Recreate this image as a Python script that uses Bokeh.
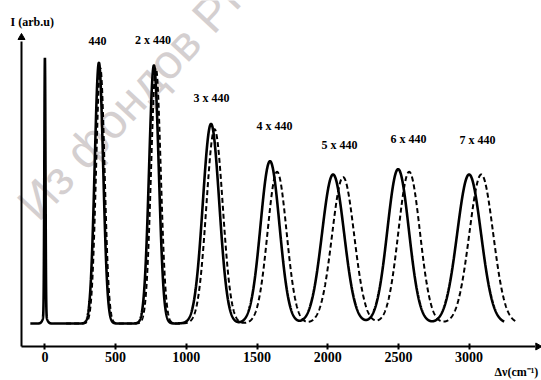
import numpy as np
from bokeh.plotting import figure
from bokeh.models import Label, FixedTicker
from bokeh.core.properties import value
from bokeh.embed import file_html
from bokeh.resources import INLINE

# ---- data ----
# solid spectrum: peak positions (cm^-1), heights (arb.u.), widths (sigma, cm^-1)
solid_pos = [0, 0, 382, 771, 1175, 1592, 2038, 2498, 3000]
solid_height = [97, 3, 98, 97, 75, 61, 56, 58, 56]
solid_sigma = [4, 14, 30, 34, 58, 67, 78, 76, 84]
solid_span = [-103, 3248]

# dashed spectrum
dashed_pos = [392, 785, 1200, 1642, 2109, 2576, 3086]
dashed_height = [96, 96, 73, 57, 55, 57, 56]
dashed_sigma = [30, 34, 58, 67, 78, 76, 84]
dashed_span = [150, 3333]

peak_labels = ["440", "2 x 440", "3 x 440", "4 x 440", "5 x 440", "6 x 440", "7 x 440"]
label_x = [372, 764, 1178, 1624, 2083, 2571, 3059]
label_y = [106, 106.4, 84.6, 74.4, 66.9, 69.5, 68.8]

x_ticks = [0, 500, 1000, 1500, 2000, 2500, 3000]

# ---- layout constants ----
x_min, x_max = -314.0, 3512.0
y_min, y_max = -21.43, 121.4
axis_x0, axis_y0 = -165.5, -8.65      # origin of the drawn axes
axis_x_end, axis_y_end = 3466.0, 106.0


def spectrum(pos, height, sigma, span, n=5000):
    x = np.linspace(span[0], span[1], n)
    y = np.zeros_like(x)
    for c, h, s in zip(pos, height, sigma):
        y += h * np.exp(-0.5 * ((x - c) / s) ** 2)
    return x, y


p = figure(width=541, height=380, output_backend="svg", toolbar_location=None,
           x_range=(x_min, x_max), y_range=(y_min, y_max),
           min_border_left=0, min_border_right=0, min_border_top=0, min_border_bottom=0)
p.grid.visible = False
p.outline_line_color = None
p.yaxis.visible = False
p.background_fill_color = "white"

# watermark
p.add_layout(Label(x=-130, y=41.95, text="Из фондов РГБ", angle=47, angle_units="deg",
                   text_font="Liberation Sans", text_font_size="48px", text_color="#d4cfd0",
                   text_baseline="alphabetic", level="underlay"))

xs, ys = spectrum(solid_pos, solid_height, solid_sigma, solid_span)
xd, yd = spectrum(dashed_pos, dashed_height, dashed_sigma, dashed_span)
p.line(xd, yd, line_color="black", line_width=2, line_dash="5 3")
p.line(xs, ys, line_color="black", line_width=2.6)

p.text(x=label_x, y=label_y, text=peak_labels, text_font=value("Liberation Serif"),
       text_font_style="bold", text_font_size="12px", text_align="center",
       text_baseline="middle", text_color="black")

# axis lines with arrow heads
p.segment(x0=[axis_x0, axis_x0], y0=[axis_y0, axis_y0],
          x1=[axis_x_end, axis_x0], y1=[axis_y0, axis_y_end],
          line_color="black", line_width=2)
p.scatter(x=[axis_x_end + 20, axis_x0], y=[axis_y0, axis_y_end + 1.5], marker="triangle",
          angle=[-np.pi / 2, 0], size=7, fill_color="black", line_color="black")

# x axis ticks and labels, placed on the drawn axis line
p.xaxis.fixed_location = axis_y0
p.xaxis.ticker = FixedTicker(ticks=x_ticks)
p.xaxis.axis_line_color = None
p.xaxis.major_tick_in = 3
p.xaxis.major_tick_out = 3
p.xaxis.major_tick_line_width = 2
p.xaxis.minor_tick_line_color = None
p.xaxis.major_label_standoff = 3
p.xaxis.major_label_text_font = "Liberation Serif"
p.xaxis.major_label_text_font_style = "bold"
p.xaxis.major_label_text_font_size = "14px"
p.xaxis.major_label_text_color = "black"

p.add_layout(Label(x=-243, y=113.5, text="I (arb.u)", text_font="Liberation Serif",
                   text_font_style="bold", text_font_size="12px", text_baseline="middle",
                   text_color="black"))
p.add_layout(Label(x=3180, y=-18.05, text="Δν(cm⁻¹)", text_font="Liberation Serif",
                   text_font_style="bold", text_font_size="12px", text_baseline="alphabetic",
                   text_color="black"))

open("out.html", "w").write(file_html(p, INLINE))
